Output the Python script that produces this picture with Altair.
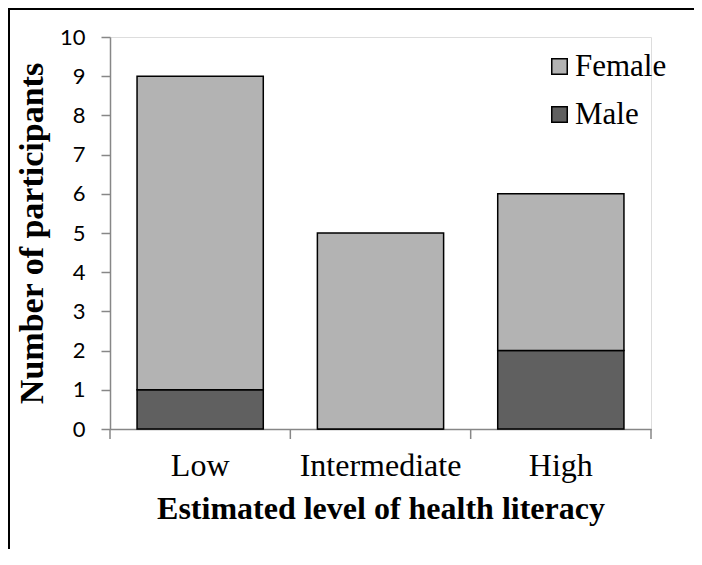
import altair as alt
import pandas as pd

levels = ["Low", "Intermediate", "High"]
female = [8, 5, 4]
male = [1, 0, 2]
sexes = ["Female", "Male"]
colors = ["#b3b3b3", "#606060"]
y_ticks = list(range(0, 11))
boundaries = [0, 1, 2, 3]

rows = []
for lv, f, m in zip(levels, female, male):
    rows.append({"level": lv, "sex": "Male", "n": m, "ord": 0})
    rows.append({"level": lv, "sex": "Female", "n": f, "ord": 1})
df = pd.DataFrame(rows)

W, H = 541, 392
AX = "#878787"
SERIF = "Liberation Serif"

bars = alt.Chart(df).mark_bar(stroke="black", strokeWidth=1.5).encode(
    x=alt.X("level:N", sort=levels,
            scale=alt.Scale(paddingInner=0.3, paddingOuter=0.15),
            axis=alt.Axis(title="Estimated level of health literacy", labelAngle=0,
                          ticks=False, domainColor=AX, domainWidth=1.5,
                          labelFont=SERIF, labelFontSize=32, labelColor="black",
                          labelPadding=21, titleFont=SERIF, titleFontSize=32,
                          titleFontWeight="bold", titleColor="black", titlePadding=12)),
    y=alt.Y("n:Q", stack="zero",
            scale=alt.Scale(domain=[0, 10], nice=False),
            axis=alt.Axis(title="Number of participants", values=y_ticks, grid=False,
                          domainColor=AX, domainWidth=1.5, tickColor=AX, tickWidth=1.5,
                          tickSize=9, labelFont="Lato", labelFontSize=22,
                          labelColor="black", labelPadding=16, titleFont=SERIF,
                          titleFontSize=34, titleFontWeight="bold", titleColor="black",
                          titlePadding=10)),
    color=alt.Color("sex:N", scale=alt.Scale(domain=sexes, range=colors),
                    legend=alt.Legend(title=None, orient="none", legendX=434, legendY=14,
                                      symbolType="square", symbolSize=240,
                                      symbolStrokeColor="black", symbolStrokeWidth=1.5,
                                      labelFont=SERIF, labelFontSize=31, labelColor="black",
                                      labelLimit=300, rowPadding=16, labelOffset=0)),
    order=alt.Order("ord:Q"),
)

ticks = alt.Chart(pd.DataFrame({"b": boundaries})).mark_rule(color=AX, strokeWidth=1.5).encode(
    x=alt.X("b:Q", scale=alt.Scale(domain=[0, 3]), axis=None),
    y=alt.value(H),
    y2=alt.value(H + 10),
)

border = alt.Chart(alt.Data(values=[{}])).mark_rect(
    fill=None, fillOpacity=0, stroke="black", strokeWidth=2
).encode(
    x=alt.value(-101), x2=alt.value(W + 200), y=alt.value(-28), y2=alt.value(H + 300)
)

chart = alt.layer(bars, ticks, border).resolve_scale(x="independent").properties(
    width=W, height=H,
    autosize=alt.AutoSizeParams(type="none"),
    padding={"left": 102, "top": 29, "right": 43, "bottom": 120},
).configure_view(stroke=None).configure(background="white")

chart.save("out.html", embed_options={"renderer": "svg", "actions": False})
